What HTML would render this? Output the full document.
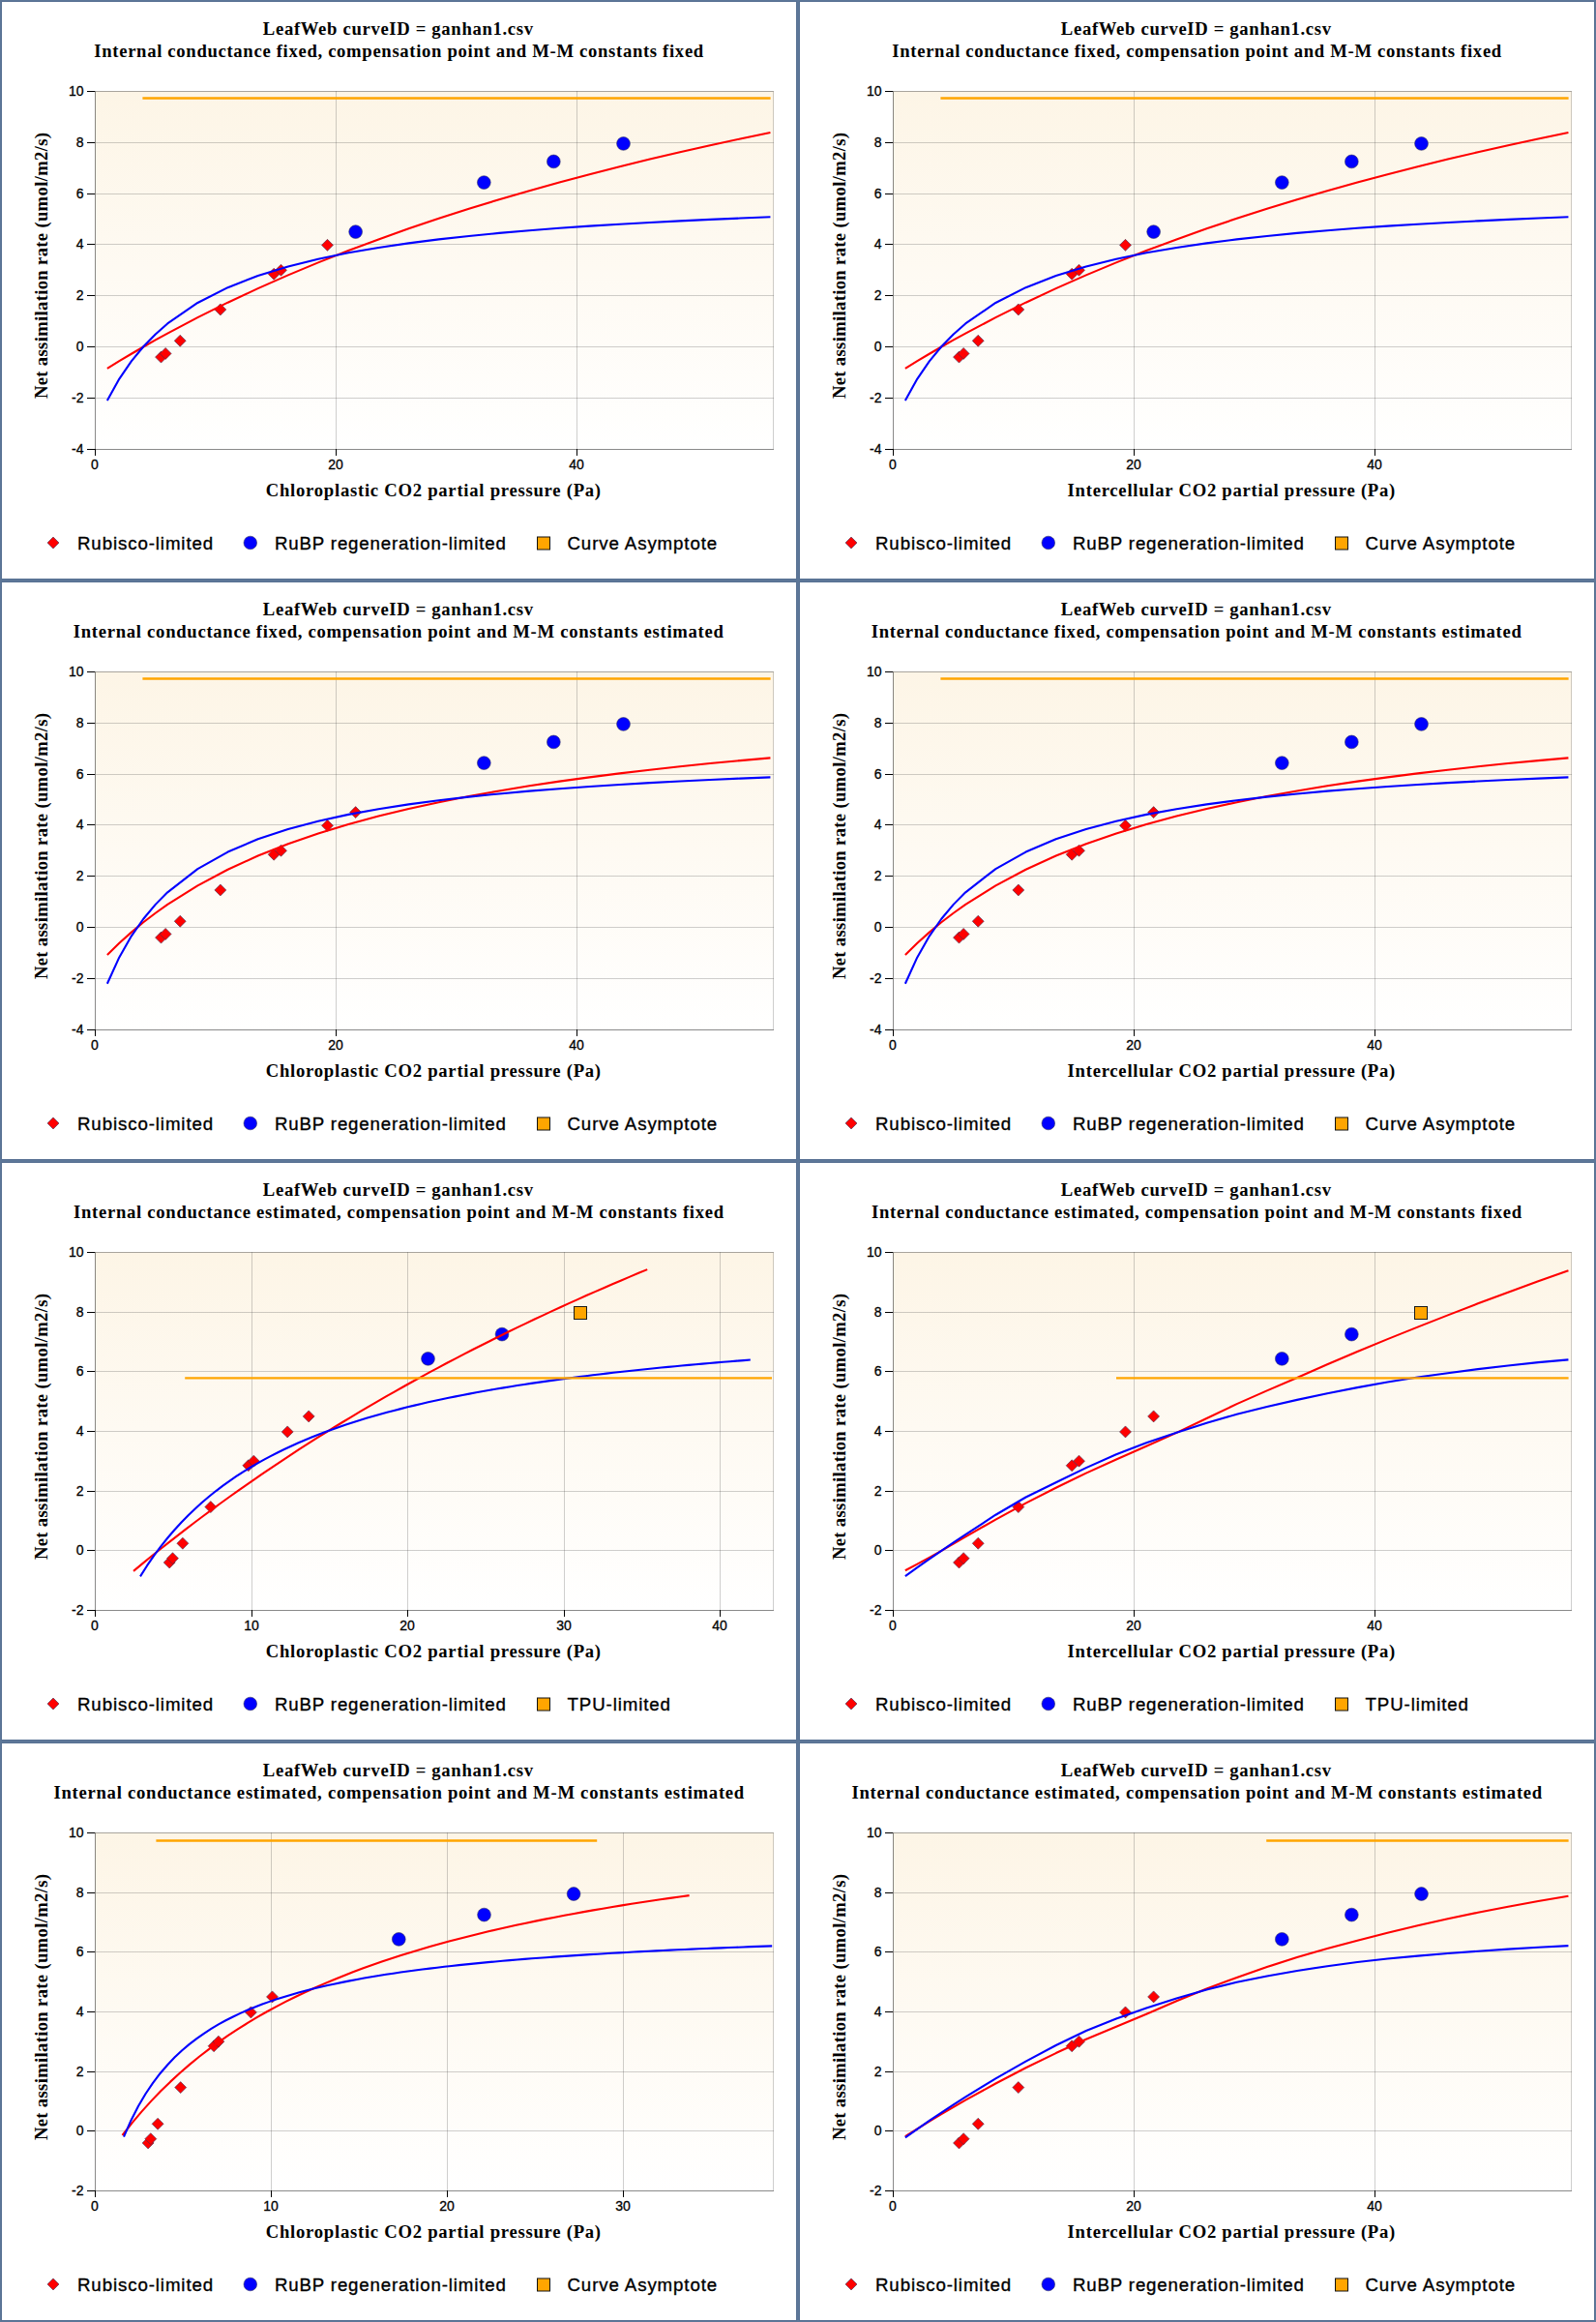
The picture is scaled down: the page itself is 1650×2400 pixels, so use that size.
<!DOCTYPE html>
<html><head><meta charset="utf-8"><title>LeafWeb A/Ci curves</title>
<style>html,body{margin:0;padding:0;background:#fff}body{width:1650px;height:2400px;overflow:hidden;font-family:"Liberation Sans",sans-serif}text{fill:#000}</style></head>
<body>
<svg width="1650" height="2400" viewBox="0 0 1650 2400" style="display:block">
<defs><linearGradient id="bg" x1="0" y1="0" x2="0" y2="1"><stop offset="0" stop-color="#fdf5e6"/><stop offset="1" stop-color="#ffffff"/></linearGradient></defs>
<g transform="translate(0,0)">
<rect x="0.5" y="0.5" width="824" height="599" fill="#fff" stroke="#5d7798"/>
<rect x="1.5" y="1.5" width="822" height="597" fill="none" stroke="#587193"/>
<text x="411.8" y="35.8" text-anchor="middle" font-family="Liberation Serif" font-weight="bold" font-size="18.67" letter-spacing="0.67">LeafWeb curveID = ganhan1.csv</text>
<text x="412.6" y="58.6" text-anchor="middle" font-family="Liberation Serif" font-weight="bold" font-size="18.67" letter-spacing="0.68">Internal conductance fixed, compensation point and M-M constants fixed</text>
<rect x="98" y="94" width="702" height="371" fill="url(#bg)"/>
<line x1="98" x2="800" y1="464.5" y2="464.5" stroke="#404040" stroke-opacity="0.25"/>
<line x1="98" x2="800" y1="411.5" y2="411.5" stroke="#404040" stroke-opacity="0.25"/>
<line x1="98" x2="800" y1="358.5" y2="358.5" stroke="#404040" stroke-opacity="0.25"/>
<line x1="98" x2="800" y1="305.5" y2="305.5" stroke="#404040" stroke-opacity="0.25"/>
<line x1="98" x2="800" y1="252.5" y2="252.5" stroke="#404040" stroke-opacity="0.25"/>
<line x1="98" x2="800" y1="200.5" y2="200.5" stroke="#404040" stroke-opacity="0.25"/>
<line x1="98" x2="800" y1="147.5" y2="147.5" stroke="#404040" stroke-opacity="0.25"/>
<line x1="98" x2="800" y1="94.5" y2="94.5" stroke="#404040" stroke-opacity="0.25"/>
<line x1="98.5" x2="98.5" y1="94" y2="465" stroke="#404040" stroke-opacity="0.25"/>
<line x1="347.5" x2="347.5" y1="94" y2="465" stroke="#404040" stroke-opacity="0.25"/>
<line x1="596.5" x2="596.5" y1="94" y2="465" stroke="#404040" stroke-opacity="0.25"/>
<rect x="98.5" y="94.5" width="701" height="370" fill="none" stroke="#404040" stroke-opacity="0.25"/>
<line x1="98.5" x2="98.5" y1="94" y2="465" stroke="#404040" stroke-opacity="0.3"/>
<line x1="98" x2="800" y1="464.5" y2="464.5" stroke="#404040" stroke-opacity="0.3"/>
<line x1="90" x2="98" y1="464.5" y2="464.5" stroke="#000"/>
<text x="86.5" y="468.7" text-anchor="end" font-family="Liberation Sans" font-size="14" stroke="#000" stroke-width="0.3">-4</text>
<line x1="90" x2="98" y1="411.5" y2="411.5" stroke="#000"/>
<text x="86.5" y="415.7" text-anchor="end" font-family="Liberation Sans" font-size="14" stroke="#000" stroke-width="0.3">-2</text>
<line x1="90" x2="98" y1="358.5" y2="358.5" stroke="#000"/>
<text x="86.5" y="362.7" text-anchor="end" font-family="Liberation Sans" font-size="14" stroke="#000" stroke-width="0.3">0</text>
<line x1="90" x2="98" y1="305.5" y2="305.5" stroke="#000"/>
<text x="86.5" y="309.7" text-anchor="end" font-family="Liberation Sans" font-size="14" stroke="#000" stroke-width="0.3">2</text>
<line x1="90" x2="98" y1="252.5" y2="252.5" stroke="#000"/>
<text x="86.5" y="256.7" text-anchor="end" font-family="Liberation Sans" font-size="14" stroke="#000" stroke-width="0.3">4</text>
<line x1="90" x2="98" y1="200.5" y2="200.5" stroke="#000"/>
<text x="86.5" y="204.7" text-anchor="end" font-family="Liberation Sans" font-size="14" stroke="#000" stroke-width="0.3">6</text>
<line x1="90" x2="98" y1="147.5" y2="147.5" stroke="#000"/>
<text x="86.5" y="151.7" text-anchor="end" font-family="Liberation Sans" font-size="14" stroke="#000" stroke-width="0.3">8</text>
<line x1="90" x2="98" y1="94.5" y2="94.5" stroke="#000"/>
<text x="86.5" y="98.7" text-anchor="end" font-family="Liberation Sans" font-size="14" stroke="#000" stroke-width="0.3">10</text>
<line x1="98.5" x2="98.5" y1="464" y2="471" stroke="#000"/>
<text x="98.0" y="485" text-anchor="middle" font-family="Liberation Sans" font-size="14" stroke="#000" stroke-width="0.3">0</text>
<line x1="347.5" x2="347.5" y1="464" y2="471" stroke="#000"/>
<text x="347.0" y="485" text-anchor="middle" font-family="Liberation Sans" font-size="14" stroke="#000" stroke-width="0.3">20</text>
<line x1="596.5" x2="596.5" y1="464" y2="471" stroke="#000"/>
<text x="596.0" y="485" text-anchor="middle" font-family="Liberation Sans" font-size="14" stroke="#000" stroke-width="0.3">40</text>
<text x="448.3" y="512.9" text-anchor="middle" font-family="Liberation Serif" font-weight="bold" font-size="18.67" letter-spacing="0.74">Chloroplastic CO2 partial pressure (Pa)</text>
<text transform="translate(49,274.4) rotate(-90)" text-anchor="middle" font-family="Liberation Serif" font-weight="bold" font-size="18.67" letter-spacing="0.32">Net assimilation rate (umol/m2/s)</text>
<path d="M160.53 369.12 L166.53 363.12 L172.53 369.12 L166.53 375.12Z" fill="#f00" stroke="#303058" stroke-opacity="0.7" stroke-width="0.8"/>
<path d="M165.14 365.42 L171.14 359.42 L177.14 365.42 L171.14 371.42Z" fill="#f00" stroke="#303058" stroke-opacity="0.7" stroke-width="0.8"/>
<path d="M180.22 352.21 L186.22 346.21 L192.22 352.21 L186.22 358.21Z" fill="#f00" stroke="#303058" stroke-opacity="0.7" stroke-width="0.8"/>
<path d="M221.83 319.96 L227.83 313.96 L233.83 319.96 L227.83 325.96Z" fill="#f00" stroke="#303058" stroke-opacity="0.7" stroke-width="0.8"/>
<path d="M277.16 283.23 L283.16 277.23 L289.16 283.23 L283.16 289.23Z" fill="#f00" stroke="#303058" stroke-opacity="0.7" stroke-width="0.8"/>
<path d="M284.51 279.26 L290.51 273.26 L296.51 279.26 L290.51 285.26Z" fill="#f00" stroke="#303058" stroke-opacity="0.7" stroke-width="0.8"/>
<path d="M332.48 253.36 L338.48 247.36 L344.48 253.36 L338.48 259.36Z" fill="#f00" stroke="#303058" stroke-opacity="0.7" stroke-width="0.8"/>
<circle cx="367.63" cy="239.62" r="6.9" fill="#00f" stroke="#303058" stroke-opacity="0.7" stroke-width="0.8"/>
<circle cx="500.33" cy="188.61" r="6.9" fill="#00f" stroke="#303058" stroke-opacity="0.7" stroke-width="0.8"/>
<circle cx="572.35" cy="166.94" r="6.9" fill="#00f" stroke="#303058" stroke-opacity="0.7" stroke-width="0.8"/>
<circle cx="644.5" cy="148.44" r="6.9" fill="#00f" stroke="#303058" stroke-opacity="0.7" stroke-width="0.8"/>
<path d="M110.87 380.83 L123.33 373.2 L135.8 365.76 L148.26 358.52 L160.73 351.46 L173.19 344.59 L204.35 328.14 L235.52 312.68 L266.68 298.11 L297.84 284.36 L329 271.37 L360.16 259.07 L391.33 247.41 L422.49 236.34 L453.65 225.81 L484.82 215.8 L515.98 206.26 L547.14 197.15 L578.3 188.46 L609.47 180.14 L640.63 172.19 L671.79 164.57 L702.95 157.26 L734.12 150.25 L765.28 143.52 L796.44 137.05" fill="none" stroke="#f00" stroke-width="2.1" stroke-linecap="butt" stroke-linejoin="round"/>
<path d="M110.87 413.92 L123.33 391.58 L135.8 373.36 L148.26 358.22 L160.73 345.42 L173.19 334.48 L204.35 312.97 L235.52 297.17 L266.68 285.06 L297.84 275.49 L329 267.74 L360.16 261.33 L391.33 255.94 L422.49 251.35 L453.65 247.39 L484.82 243.94 L515.98 240.91 L547.14 238.22 L578.3 235.82 L609.47 233.67 L640.63 231.73 L671.79 229.96 L702.95 228.36 L734.12 226.89 L765.28 225.54 L796.44 224.29" fill="none" stroke="#00f" stroke-width="2.1" stroke-linecap="butt" stroke-linejoin="round"/>
<line x1="147.4" x2="796.6" y1="101.45" y2="101.45" stroke="#ffa500" stroke-width="2.35"/>
<path d="M49 561 L55 555 L61 561 L55 567Z" fill="#f00" stroke="#303058" stroke-opacity="0.7" stroke-width="0.8"/>
<circle cx="258.8" cy="561" r="6.8" fill="#00f" stroke="#303058" stroke-opacity="0.7" stroke-width="0.8"/>
<rect x="555.5" y="555" width="13" height="13" fill="#ffa500" stroke="#111"/>
<text x="80" y="567.6" font-family="Liberation Sans" font-size="18.67" stroke="#000" stroke-width="0.35" letter-spacing="0.9">Rubisco-limited</text>
<text x="284" y="567.6" font-family="Liberation Sans" font-size="18.67" stroke="#000" stroke-width="0.35" letter-spacing="0.85">RuBP regeneration-limited</text>
<text x="586.5" y="567.6" font-family="Liberation Sans" font-size="18.67" stroke="#000" stroke-width="0.35" letter-spacing="0.9">Curve Asymptote</text>
</g>
<g transform="translate(825,0)">
<rect x="0.5" y="0.5" width="824" height="599" fill="#fff" stroke="#5d7798"/>
<rect x="1.5" y="1.5" width="822" height="597" fill="none" stroke="#587193"/>
<text x="411.8" y="35.8" text-anchor="middle" font-family="Liberation Serif" font-weight="bold" font-size="18.67" letter-spacing="0.67">LeafWeb curveID = ganhan1.csv</text>
<text x="412.6" y="58.6" text-anchor="middle" font-family="Liberation Serif" font-weight="bold" font-size="18.67" letter-spacing="0.68">Internal conductance fixed, compensation point and M-M constants fixed</text>
<rect x="98" y="94" width="702" height="371" fill="url(#bg)"/>
<line x1="98" x2="800" y1="464.5" y2="464.5" stroke="#404040" stroke-opacity="0.25"/>
<line x1="98" x2="800" y1="411.5" y2="411.5" stroke="#404040" stroke-opacity="0.25"/>
<line x1="98" x2="800" y1="358.5" y2="358.5" stroke="#404040" stroke-opacity="0.25"/>
<line x1="98" x2="800" y1="305.5" y2="305.5" stroke="#404040" stroke-opacity="0.25"/>
<line x1="98" x2="800" y1="252.5" y2="252.5" stroke="#404040" stroke-opacity="0.25"/>
<line x1="98" x2="800" y1="200.5" y2="200.5" stroke="#404040" stroke-opacity="0.25"/>
<line x1="98" x2="800" y1="147.5" y2="147.5" stroke="#404040" stroke-opacity="0.25"/>
<line x1="98" x2="800" y1="94.5" y2="94.5" stroke="#404040" stroke-opacity="0.25"/>
<line x1="98.5" x2="98.5" y1="94" y2="465" stroke="#404040" stroke-opacity="0.25"/>
<line x1="347.5" x2="347.5" y1="94" y2="465" stroke="#404040" stroke-opacity="0.25"/>
<line x1="596.5" x2="596.5" y1="94" y2="465" stroke="#404040" stroke-opacity="0.25"/>
<rect x="98.5" y="94.5" width="701" height="370" fill="none" stroke="#404040" stroke-opacity="0.25"/>
<line x1="98.5" x2="98.5" y1="94" y2="465" stroke="#404040" stroke-opacity="0.3"/>
<line x1="98" x2="800" y1="464.5" y2="464.5" stroke="#404040" stroke-opacity="0.3"/>
<line x1="90" x2="98" y1="464.5" y2="464.5" stroke="#000"/>
<text x="86.5" y="468.7" text-anchor="end" font-family="Liberation Sans" font-size="14" stroke="#000" stroke-width="0.3">-4</text>
<line x1="90" x2="98" y1="411.5" y2="411.5" stroke="#000"/>
<text x="86.5" y="415.7" text-anchor="end" font-family="Liberation Sans" font-size="14" stroke="#000" stroke-width="0.3">-2</text>
<line x1="90" x2="98" y1="358.5" y2="358.5" stroke="#000"/>
<text x="86.5" y="362.7" text-anchor="end" font-family="Liberation Sans" font-size="14" stroke="#000" stroke-width="0.3">0</text>
<line x1="90" x2="98" y1="305.5" y2="305.5" stroke="#000"/>
<text x="86.5" y="309.7" text-anchor="end" font-family="Liberation Sans" font-size="14" stroke="#000" stroke-width="0.3">2</text>
<line x1="90" x2="98" y1="252.5" y2="252.5" stroke="#000"/>
<text x="86.5" y="256.7" text-anchor="end" font-family="Liberation Sans" font-size="14" stroke="#000" stroke-width="0.3">4</text>
<line x1="90" x2="98" y1="200.5" y2="200.5" stroke="#000"/>
<text x="86.5" y="204.7" text-anchor="end" font-family="Liberation Sans" font-size="14" stroke="#000" stroke-width="0.3">6</text>
<line x1="90" x2="98" y1="147.5" y2="147.5" stroke="#000"/>
<text x="86.5" y="151.7" text-anchor="end" font-family="Liberation Sans" font-size="14" stroke="#000" stroke-width="0.3">8</text>
<line x1="90" x2="98" y1="94.5" y2="94.5" stroke="#000"/>
<text x="86.5" y="98.7" text-anchor="end" font-family="Liberation Sans" font-size="14" stroke="#000" stroke-width="0.3">10</text>
<line x1="98.5" x2="98.5" y1="464" y2="471" stroke="#000"/>
<text x="98.0" y="485" text-anchor="middle" font-family="Liberation Sans" font-size="14" stroke="#000" stroke-width="0.3">0</text>
<line x1="347.5" x2="347.5" y1="464" y2="471" stroke="#000"/>
<text x="347.0" y="485" text-anchor="middle" font-family="Liberation Sans" font-size="14" stroke="#000" stroke-width="0.3">20</text>
<line x1="596.5" x2="596.5" y1="464" y2="471" stroke="#000"/>
<text x="596.0" y="485" text-anchor="middle" font-family="Liberation Sans" font-size="14" stroke="#000" stroke-width="0.3">40</text>
<text x="448.3" y="512.9" text-anchor="middle" font-family="Liberation Serif" font-weight="bold" font-size="18.67" letter-spacing="0.74">Intercellular CO2 partial pressure (Pa)</text>
<text transform="translate(49,274.4) rotate(-90)" text-anchor="middle" font-family="Liberation Serif" font-weight="bold" font-size="18.67" letter-spacing="0.32">Net assimilation rate (umol/m2/s)</text>
<path d="M160.53 369.12 L166.53 363.12 L172.53 369.12 L166.53 375.12Z" fill="#f00" stroke="#303058" stroke-opacity="0.7" stroke-width="0.8"/>
<path d="M165.14 365.42 L171.14 359.42 L177.14 365.42 L171.14 371.42Z" fill="#f00" stroke="#303058" stroke-opacity="0.7" stroke-width="0.8"/>
<path d="M180.22 352.21 L186.22 346.21 L192.22 352.21 L186.22 358.21Z" fill="#f00" stroke="#303058" stroke-opacity="0.7" stroke-width="0.8"/>
<path d="M221.83 319.96 L227.83 313.96 L233.83 319.96 L227.83 325.96Z" fill="#f00" stroke="#303058" stroke-opacity="0.7" stroke-width="0.8"/>
<path d="M277.16 283.23 L283.16 277.23 L289.16 283.23 L283.16 289.23Z" fill="#f00" stroke="#303058" stroke-opacity="0.7" stroke-width="0.8"/>
<path d="M284.51 279.26 L290.51 273.26 L296.51 279.26 L290.51 285.26Z" fill="#f00" stroke="#303058" stroke-opacity="0.7" stroke-width="0.8"/>
<path d="M332.48 253.36 L338.48 247.36 L344.48 253.36 L338.48 259.36Z" fill="#f00" stroke="#303058" stroke-opacity="0.7" stroke-width="0.8"/>
<circle cx="367.63" cy="239.62" r="6.9" fill="#00f" stroke="#303058" stroke-opacity="0.7" stroke-width="0.8"/>
<circle cx="500.33" cy="188.61" r="6.9" fill="#00f" stroke="#303058" stroke-opacity="0.7" stroke-width="0.8"/>
<circle cx="572.35" cy="166.94" r="6.9" fill="#00f" stroke="#303058" stroke-opacity="0.7" stroke-width="0.8"/>
<circle cx="644.5" cy="148.44" r="6.9" fill="#00f" stroke="#303058" stroke-opacity="0.7" stroke-width="0.8"/>
<path d="M110.87 380.83 L123.33 373.2 L135.8 365.76 L148.26 358.52 L160.73 351.46 L173.19 344.59 L204.35 328.14 L235.52 312.68 L266.68 298.11 L297.84 284.36 L329 271.37 L360.16 259.07 L391.33 247.41 L422.49 236.34 L453.65 225.81 L484.82 215.8 L515.98 206.26 L547.14 197.15 L578.3 188.46 L609.47 180.14 L640.63 172.19 L671.79 164.57 L702.95 157.26 L734.12 150.25 L765.28 143.52 L796.44 137.05" fill="none" stroke="#f00" stroke-width="2.1" stroke-linecap="butt" stroke-linejoin="round"/>
<path d="M110.87 413.92 L123.33 391.58 L135.8 373.36 L148.26 358.22 L160.73 345.42 L173.19 334.48 L204.35 312.97 L235.52 297.17 L266.68 285.06 L297.84 275.49 L329 267.74 L360.16 261.33 L391.33 255.94 L422.49 251.35 L453.65 247.39 L484.82 243.94 L515.98 240.91 L547.14 238.22 L578.3 235.82 L609.47 233.67 L640.63 231.73 L671.79 229.96 L702.95 228.36 L734.12 226.89 L765.28 225.54 L796.44 224.29" fill="none" stroke="#00f" stroke-width="2.1" stroke-linecap="butt" stroke-linejoin="round"/>
<line x1="147.4" x2="796.6" y1="101.45" y2="101.45" stroke="#ffa500" stroke-width="2.35"/>
<path d="M49 561 L55 555 L61 561 L55 567Z" fill="#f00" stroke="#303058" stroke-opacity="0.7" stroke-width="0.8"/>
<circle cx="258.8" cy="561" r="6.8" fill="#00f" stroke="#303058" stroke-opacity="0.7" stroke-width="0.8"/>
<rect x="555.5" y="555" width="13" height="13" fill="#ffa500" stroke="#111"/>
<text x="80" y="567.6" font-family="Liberation Sans" font-size="18.67" stroke="#000" stroke-width="0.35" letter-spacing="0.9">Rubisco-limited</text>
<text x="284" y="567.6" font-family="Liberation Sans" font-size="18.67" stroke="#000" stroke-width="0.35" letter-spacing="0.85">RuBP regeneration-limited</text>
<text x="586.5" y="567.6" font-family="Liberation Sans" font-size="18.67" stroke="#000" stroke-width="0.35" letter-spacing="0.9">Curve Asymptote</text>
</g>
<g transform="translate(0,600)">
<rect x="0.5" y="0.5" width="824" height="599" fill="#fff" stroke="#5d7798"/>
<rect x="1.5" y="1.5" width="822" height="597" fill="none" stroke="#587193"/>
<text x="411.8" y="35.8" text-anchor="middle" font-family="Liberation Serif" font-weight="bold" font-size="18.67" letter-spacing="0.67">LeafWeb curveID = ganhan1.csv</text>
<text x="412.2" y="58.6" text-anchor="middle" font-family="Liberation Serif" font-weight="bold" font-size="18.67" letter-spacing="0.71">Internal conductance fixed, compensation point and M-M constants estimated</text>
<rect x="98" y="94" width="702" height="371" fill="url(#bg)"/>
<line x1="98" x2="800" y1="464.5" y2="464.5" stroke="#404040" stroke-opacity="0.25"/>
<line x1="98" x2="800" y1="411.5" y2="411.5" stroke="#404040" stroke-opacity="0.25"/>
<line x1="98" x2="800" y1="358.5" y2="358.5" stroke="#404040" stroke-opacity="0.25"/>
<line x1="98" x2="800" y1="305.5" y2="305.5" stroke="#404040" stroke-opacity="0.25"/>
<line x1="98" x2="800" y1="252.5" y2="252.5" stroke="#404040" stroke-opacity="0.25"/>
<line x1="98" x2="800" y1="200.5" y2="200.5" stroke="#404040" stroke-opacity="0.25"/>
<line x1="98" x2="800" y1="147.5" y2="147.5" stroke="#404040" stroke-opacity="0.25"/>
<line x1="98" x2="800" y1="94.5" y2="94.5" stroke="#404040" stroke-opacity="0.25"/>
<line x1="98.5" x2="98.5" y1="94" y2="465" stroke="#404040" stroke-opacity="0.25"/>
<line x1="347.5" x2="347.5" y1="94" y2="465" stroke="#404040" stroke-opacity="0.25"/>
<line x1="596.5" x2="596.5" y1="94" y2="465" stroke="#404040" stroke-opacity="0.25"/>
<rect x="98.5" y="94.5" width="701" height="370" fill="none" stroke="#404040" stroke-opacity="0.25"/>
<line x1="98.5" x2="98.5" y1="94" y2="465" stroke="#404040" stroke-opacity="0.3"/>
<line x1="98" x2="800" y1="464.5" y2="464.5" stroke="#404040" stroke-opacity="0.3"/>
<line x1="90" x2="98" y1="464.5" y2="464.5" stroke="#000"/>
<text x="86.5" y="468.7" text-anchor="end" font-family="Liberation Sans" font-size="14" stroke="#000" stroke-width="0.3">-4</text>
<line x1="90" x2="98" y1="411.5" y2="411.5" stroke="#000"/>
<text x="86.5" y="415.7" text-anchor="end" font-family="Liberation Sans" font-size="14" stroke="#000" stroke-width="0.3">-2</text>
<line x1="90" x2="98" y1="358.5" y2="358.5" stroke="#000"/>
<text x="86.5" y="362.7" text-anchor="end" font-family="Liberation Sans" font-size="14" stroke="#000" stroke-width="0.3">0</text>
<line x1="90" x2="98" y1="305.5" y2="305.5" stroke="#000"/>
<text x="86.5" y="309.7" text-anchor="end" font-family="Liberation Sans" font-size="14" stroke="#000" stroke-width="0.3">2</text>
<line x1="90" x2="98" y1="252.5" y2="252.5" stroke="#000"/>
<text x="86.5" y="256.7" text-anchor="end" font-family="Liberation Sans" font-size="14" stroke="#000" stroke-width="0.3">4</text>
<line x1="90" x2="98" y1="200.5" y2="200.5" stroke="#000"/>
<text x="86.5" y="204.7" text-anchor="end" font-family="Liberation Sans" font-size="14" stroke="#000" stroke-width="0.3">6</text>
<line x1="90" x2="98" y1="147.5" y2="147.5" stroke="#000"/>
<text x="86.5" y="151.7" text-anchor="end" font-family="Liberation Sans" font-size="14" stroke="#000" stroke-width="0.3">8</text>
<line x1="90" x2="98" y1="94.5" y2="94.5" stroke="#000"/>
<text x="86.5" y="98.7" text-anchor="end" font-family="Liberation Sans" font-size="14" stroke="#000" stroke-width="0.3">10</text>
<line x1="98.5" x2="98.5" y1="464" y2="471" stroke="#000"/>
<text x="98.0" y="485" text-anchor="middle" font-family="Liberation Sans" font-size="14" stroke="#000" stroke-width="0.3">0</text>
<line x1="347.5" x2="347.5" y1="464" y2="471" stroke="#000"/>
<text x="347.0" y="485" text-anchor="middle" font-family="Liberation Sans" font-size="14" stroke="#000" stroke-width="0.3">20</text>
<line x1="596.5" x2="596.5" y1="464" y2="471" stroke="#000"/>
<text x="596.0" y="485" text-anchor="middle" font-family="Liberation Sans" font-size="14" stroke="#000" stroke-width="0.3">40</text>
<text x="448.3" y="512.9" text-anchor="middle" font-family="Liberation Serif" font-weight="bold" font-size="18.67" letter-spacing="0.74">Chloroplastic CO2 partial pressure (Pa)</text>
<text transform="translate(49,274.4) rotate(-90)" text-anchor="middle" font-family="Liberation Serif" font-weight="bold" font-size="18.67" letter-spacing="0.32">Net assimilation rate (umol/m2/s)</text>
<path d="M160.53 369.12 L166.53 363.12 L172.53 369.12 L166.53 375.12Z" fill="#f00" stroke="#303058" stroke-opacity="0.7" stroke-width="0.8"/>
<path d="M165.14 365.42 L171.14 359.42 L177.14 365.42 L171.14 371.42Z" fill="#f00" stroke="#303058" stroke-opacity="0.7" stroke-width="0.8"/>
<path d="M180.22 352.21 L186.22 346.21 L192.22 352.21 L186.22 358.21Z" fill="#f00" stroke="#303058" stroke-opacity="0.7" stroke-width="0.8"/>
<path d="M221.83 319.96 L227.83 313.96 L233.83 319.96 L227.83 325.96Z" fill="#f00" stroke="#303058" stroke-opacity="0.7" stroke-width="0.8"/>
<path d="M277.16 283.23 L283.16 277.23 L289.16 283.23 L283.16 289.23Z" fill="#f00" stroke="#303058" stroke-opacity="0.7" stroke-width="0.8"/>
<path d="M284.51 279.26 L290.51 273.26 L296.51 279.26 L290.51 285.26Z" fill="#f00" stroke="#303058" stroke-opacity="0.7" stroke-width="0.8"/>
<path d="M332.48 253.36 L338.48 247.36 L344.48 253.36 L338.48 259.36Z" fill="#f00" stroke="#303058" stroke-opacity="0.7" stroke-width="0.8"/>
<path d="M361.63 239.62 L367.63 233.62 L373.63 239.62 L367.63 245.62Z" fill="#f00" stroke="#303058" stroke-opacity="0.7" stroke-width="0.8"/>
<circle cx="500.33" cy="188.61" r="6.9" fill="#00f" stroke="#303058" stroke-opacity="0.7" stroke-width="0.8"/>
<circle cx="572.35" cy="166.94" r="6.9" fill="#00f" stroke="#303058" stroke-opacity="0.7" stroke-width="0.8"/>
<circle cx="644.5" cy="148.44" r="6.9" fill="#00f" stroke="#303058" stroke-opacity="0.7" stroke-width="0.8"/>
<path d="M110.87 387.04 L123.33 374.84 L135.8 363.62 L148.26 353.29 L160.73 343.74 L173.19 334.88 L204.35 315.31 L235.52 298.75 L266.68 284.56 L297.84 272.25 L329 261.49 L360.16 251.99 L391.33 243.54 L422.49 235.99 L453.65 229.19 L484.82 223.03 L515.98 217.44 L547.14 212.33 L578.3 207.65 L609.47 203.34 L640.63 199.36 L671.79 195.68 L702.95 192.26 L734.12 189.08 L765.28 186.11 L796.44 183.33" fill="none" stroke="#f00" stroke-width="2.1" stroke-linecap="butt" stroke-linejoin="round"/>
<path d="M110.87 416.79 L123.33 389.43 L135.8 367.58 L148.26 349.73 L160.73 334.87 L173.19 322.32 L204.35 298.05 L235.52 280.55 L266.68 267.33 L297.84 257 L329 248.7 L360.16 241.88 L391.33 236.19 L422.49 231.36 L453.65 227.21 L484.82 223.61 L515.98 220.46 L547.14 217.67 L578.3 215.19 L609.47 212.96 L640.63 210.96 L671.79 209.15 L702.95 207.5 L734.12 205.99 L765.28 204.61 L796.44 203.34" fill="none" stroke="#00f" stroke-width="2.1" stroke-linecap="butt" stroke-linejoin="round"/>
<line x1="147.4" x2="796.6" y1="101.45" y2="101.45" stroke="#ffa500" stroke-width="2.35"/>
<path d="M49 561 L55 555 L61 561 L55 567Z" fill="#f00" stroke="#303058" stroke-opacity="0.7" stroke-width="0.8"/>
<circle cx="258.8" cy="561" r="6.8" fill="#00f" stroke="#303058" stroke-opacity="0.7" stroke-width="0.8"/>
<rect x="555.5" y="555" width="13" height="13" fill="#ffa500" stroke="#111"/>
<text x="80" y="567.6" font-family="Liberation Sans" font-size="18.67" stroke="#000" stroke-width="0.35" letter-spacing="0.9">Rubisco-limited</text>
<text x="284" y="567.6" font-family="Liberation Sans" font-size="18.67" stroke="#000" stroke-width="0.35" letter-spacing="0.85">RuBP regeneration-limited</text>
<text x="586.5" y="567.6" font-family="Liberation Sans" font-size="18.67" stroke="#000" stroke-width="0.35" letter-spacing="0.9">Curve Asymptote</text>
</g>
<g transform="translate(825,600)">
<rect x="0.5" y="0.5" width="824" height="599" fill="#fff" stroke="#5d7798"/>
<rect x="1.5" y="1.5" width="822" height="597" fill="none" stroke="#587193"/>
<text x="411.8" y="35.8" text-anchor="middle" font-family="Liberation Serif" font-weight="bold" font-size="18.67" letter-spacing="0.67">LeafWeb curveID = ganhan1.csv</text>
<text x="412.2" y="58.6" text-anchor="middle" font-family="Liberation Serif" font-weight="bold" font-size="18.67" letter-spacing="0.71">Internal conductance fixed, compensation point and M-M constants estimated</text>
<rect x="98" y="94" width="702" height="371" fill="url(#bg)"/>
<line x1="98" x2="800" y1="464.5" y2="464.5" stroke="#404040" stroke-opacity="0.25"/>
<line x1="98" x2="800" y1="411.5" y2="411.5" stroke="#404040" stroke-opacity="0.25"/>
<line x1="98" x2="800" y1="358.5" y2="358.5" stroke="#404040" stroke-opacity="0.25"/>
<line x1="98" x2="800" y1="305.5" y2="305.5" stroke="#404040" stroke-opacity="0.25"/>
<line x1="98" x2="800" y1="252.5" y2="252.5" stroke="#404040" stroke-opacity="0.25"/>
<line x1="98" x2="800" y1="200.5" y2="200.5" stroke="#404040" stroke-opacity="0.25"/>
<line x1="98" x2="800" y1="147.5" y2="147.5" stroke="#404040" stroke-opacity="0.25"/>
<line x1="98" x2="800" y1="94.5" y2="94.5" stroke="#404040" stroke-opacity="0.25"/>
<line x1="98.5" x2="98.5" y1="94" y2="465" stroke="#404040" stroke-opacity="0.25"/>
<line x1="347.5" x2="347.5" y1="94" y2="465" stroke="#404040" stroke-opacity="0.25"/>
<line x1="596.5" x2="596.5" y1="94" y2="465" stroke="#404040" stroke-opacity="0.25"/>
<rect x="98.5" y="94.5" width="701" height="370" fill="none" stroke="#404040" stroke-opacity="0.25"/>
<line x1="98.5" x2="98.5" y1="94" y2="465" stroke="#404040" stroke-opacity="0.3"/>
<line x1="98" x2="800" y1="464.5" y2="464.5" stroke="#404040" stroke-opacity="0.3"/>
<line x1="90" x2="98" y1="464.5" y2="464.5" stroke="#000"/>
<text x="86.5" y="468.7" text-anchor="end" font-family="Liberation Sans" font-size="14" stroke="#000" stroke-width="0.3">-4</text>
<line x1="90" x2="98" y1="411.5" y2="411.5" stroke="#000"/>
<text x="86.5" y="415.7" text-anchor="end" font-family="Liberation Sans" font-size="14" stroke="#000" stroke-width="0.3">-2</text>
<line x1="90" x2="98" y1="358.5" y2="358.5" stroke="#000"/>
<text x="86.5" y="362.7" text-anchor="end" font-family="Liberation Sans" font-size="14" stroke="#000" stroke-width="0.3">0</text>
<line x1="90" x2="98" y1="305.5" y2="305.5" stroke="#000"/>
<text x="86.5" y="309.7" text-anchor="end" font-family="Liberation Sans" font-size="14" stroke="#000" stroke-width="0.3">2</text>
<line x1="90" x2="98" y1="252.5" y2="252.5" stroke="#000"/>
<text x="86.5" y="256.7" text-anchor="end" font-family="Liberation Sans" font-size="14" stroke="#000" stroke-width="0.3">4</text>
<line x1="90" x2="98" y1="200.5" y2="200.5" stroke="#000"/>
<text x="86.5" y="204.7" text-anchor="end" font-family="Liberation Sans" font-size="14" stroke="#000" stroke-width="0.3">6</text>
<line x1="90" x2="98" y1="147.5" y2="147.5" stroke="#000"/>
<text x="86.5" y="151.7" text-anchor="end" font-family="Liberation Sans" font-size="14" stroke="#000" stroke-width="0.3">8</text>
<line x1="90" x2="98" y1="94.5" y2="94.5" stroke="#000"/>
<text x="86.5" y="98.7" text-anchor="end" font-family="Liberation Sans" font-size="14" stroke="#000" stroke-width="0.3">10</text>
<line x1="98.5" x2="98.5" y1="464" y2="471" stroke="#000"/>
<text x="98.0" y="485" text-anchor="middle" font-family="Liberation Sans" font-size="14" stroke="#000" stroke-width="0.3">0</text>
<line x1="347.5" x2="347.5" y1="464" y2="471" stroke="#000"/>
<text x="347.0" y="485" text-anchor="middle" font-family="Liberation Sans" font-size="14" stroke="#000" stroke-width="0.3">20</text>
<line x1="596.5" x2="596.5" y1="464" y2="471" stroke="#000"/>
<text x="596.0" y="485" text-anchor="middle" font-family="Liberation Sans" font-size="14" stroke="#000" stroke-width="0.3">40</text>
<text x="448.3" y="512.9" text-anchor="middle" font-family="Liberation Serif" font-weight="bold" font-size="18.67" letter-spacing="0.74">Intercellular CO2 partial pressure (Pa)</text>
<text transform="translate(49,274.4) rotate(-90)" text-anchor="middle" font-family="Liberation Serif" font-weight="bold" font-size="18.67" letter-spacing="0.32">Net assimilation rate (umol/m2/s)</text>
<path d="M160.53 369.12 L166.53 363.12 L172.53 369.12 L166.53 375.12Z" fill="#f00" stroke="#303058" stroke-opacity="0.7" stroke-width="0.8"/>
<path d="M165.14 365.42 L171.14 359.42 L177.14 365.42 L171.14 371.42Z" fill="#f00" stroke="#303058" stroke-opacity="0.7" stroke-width="0.8"/>
<path d="M180.22 352.21 L186.22 346.21 L192.22 352.21 L186.22 358.21Z" fill="#f00" stroke="#303058" stroke-opacity="0.7" stroke-width="0.8"/>
<path d="M221.83 319.96 L227.83 313.96 L233.83 319.96 L227.83 325.96Z" fill="#f00" stroke="#303058" stroke-opacity="0.7" stroke-width="0.8"/>
<path d="M277.16 283.23 L283.16 277.23 L289.16 283.23 L283.16 289.23Z" fill="#f00" stroke="#303058" stroke-opacity="0.7" stroke-width="0.8"/>
<path d="M284.51 279.26 L290.51 273.26 L296.51 279.26 L290.51 285.26Z" fill="#f00" stroke="#303058" stroke-opacity="0.7" stroke-width="0.8"/>
<path d="M332.48 253.36 L338.48 247.36 L344.48 253.36 L338.48 259.36Z" fill="#f00" stroke="#303058" stroke-opacity="0.7" stroke-width="0.8"/>
<path d="M361.63 239.62 L367.63 233.62 L373.63 239.62 L367.63 245.62Z" fill="#f00" stroke="#303058" stroke-opacity="0.7" stroke-width="0.8"/>
<circle cx="500.33" cy="188.61" r="6.9" fill="#00f" stroke="#303058" stroke-opacity="0.7" stroke-width="0.8"/>
<circle cx="572.35" cy="166.94" r="6.9" fill="#00f" stroke="#303058" stroke-opacity="0.7" stroke-width="0.8"/>
<circle cx="644.5" cy="148.44" r="6.9" fill="#00f" stroke="#303058" stroke-opacity="0.7" stroke-width="0.8"/>
<path d="M110.87 387.04 L123.33 374.84 L135.8 363.62 L148.26 353.29 L160.73 343.74 L173.19 334.88 L204.35 315.31 L235.52 298.75 L266.68 284.56 L297.84 272.25 L329 261.49 L360.16 251.99 L391.33 243.54 L422.49 235.99 L453.65 229.19 L484.82 223.03 L515.98 217.44 L547.14 212.33 L578.3 207.65 L609.47 203.34 L640.63 199.36 L671.79 195.68 L702.95 192.26 L734.12 189.08 L765.28 186.11 L796.44 183.33" fill="none" stroke="#f00" stroke-width="2.1" stroke-linecap="butt" stroke-linejoin="round"/>
<path d="M110.87 416.79 L123.33 389.43 L135.8 367.58 L148.26 349.73 L160.73 334.87 L173.19 322.32 L204.35 298.05 L235.52 280.55 L266.68 267.33 L297.84 257 L329 248.7 L360.16 241.88 L391.33 236.19 L422.49 231.36 L453.65 227.21 L484.82 223.61 L515.98 220.46 L547.14 217.67 L578.3 215.19 L609.47 212.96 L640.63 210.96 L671.79 209.15 L702.95 207.5 L734.12 205.99 L765.28 204.61 L796.44 203.34" fill="none" stroke="#00f" stroke-width="2.1" stroke-linecap="butt" stroke-linejoin="round"/>
<line x1="147.4" x2="796.6" y1="101.45" y2="101.45" stroke="#ffa500" stroke-width="2.35"/>
<path d="M49 561 L55 555 L61 561 L55 567Z" fill="#f00" stroke="#303058" stroke-opacity="0.7" stroke-width="0.8"/>
<circle cx="258.8" cy="561" r="6.8" fill="#00f" stroke="#303058" stroke-opacity="0.7" stroke-width="0.8"/>
<rect x="555.5" y="555" width="13" height="13" fill="#ffa500" stroke="#111"/>
<text x="80" y="567.6" font-family="Liberation Sans" font-size="18.67" stroke="#000" stroke-width="0.35" letter-spacing="0.9">Rubisco-limited</text>
<text x="284" y="567.6" font-family="Liberation Sans" font-size="18.67" stroke="#000" stroke-width="0.35" letter-spacing="0.85">RuBP regeneration-limited</text>
<text x="586.5" y="567.6" font-family="Liberation Sans" font-size="18.67" stroke="#000" stroke-width="0.35" letter-spacing="0.9">Curve Asymptote</text>
</g>
<g transform="translate(0,1200)">
<rect x="0.5" y="0.5" width="824" height="599" fill="#fff" stroke="#5d7798"/>
<rect x="1.5" y="1.5" width="822" height="597" fill="none" stroke="#587193"/>
<text x="411.8" y="35.8" text-anchor="middle" font-family="Liberation Serif" font-weight="bold" font-size="18.67" letter-spacing="0.67">LeafWeb curveID = ganhan1.csv</text>
<text x="412.4" y="58.6" text-anchor="middle" font-family="Liberation Serif" font-weight="bold" font-size="18.67" letter-spacing="0.71">Internal conductance estimated, compensation point and M-M constants fixed</text>
<rect x="98" y="94" width="702" height="371" fill="url(#bg)"/>
<line x1="98" x2="800" y1="464.5" y2="464.5" stroke="#404040" stroke-opacity="0.25"/>
<line x1="98" x2="800" y1="402.5" y2="402.5" stroke="#404040" stroke-opacity="0.25"/>
<line x1="98" x2="800" y1="341.5" y2="341.5" stroke="#404040" stroke-opacity="0.25"/>
<line x1="98" x2="800" y1="279.5" y2="279.5" stroke="#404040" stroke-opacity="0.25"/>
<line x1="98" x2="800" y1="217.5" y2="217.5" stroke="#404040" stroke-opacity="0.25"/>
<line x1="98" x2="800" y1="156.5" y2="156.5" stroke="#404040" stroke-opacity="0.25"/>
<line x1="98" x2="800" y1="94.5" y2="94.5" stroke="#404040" stroke-opacity="0.25"/>
<line x1="98.5" x2="98.5" y1="94" y2="465" stroke="#404040" stroke-opacity="0.25"/>
<line x1="260.5" x2="260.5" y1="94" y2="465" stroke="#404040" stroke-opacity="0.25"/>
<line x1="421.5" x2="421.5" y1="94" y2="465" stroke="#404040" stroke-opacity="0.25"/>
<line x1="583.5" x2="583.5" y1="94" y2="465" stroke="#404040" stroke-opacity="0.25"/>
<line x1="744.5" x2="744.5" y1="94" y2="465" stroke="#404040" stroke-opacity="0.25"/>
<rect x="98.5" y="94.5" width="701" height="370" fill="none" stroke="#404040" stroke-opacity="0.25"/>
<line x1="98.5" x2="98.5" y1="94" y2="465" stroke="#404040" stroke-opacity="0.3"/>
<line x1="98" x2="800" y1="464.5" y2="464.5" stroke="#404040" stroke-opacity="0.3"/>
<line x1="90" x2="98" y1="464.5" y2="464.5" stroke="#000"/>
<text x="86.5" y="468.7" text-anchor="end" font-family="Liberation Sans" font-size="14" stroke="#000" stroke-width="0.3">-2</text>
<line x1="90" x2="98" y1="402.5" y2="402.5" stroke="#000"/>
<text x="86.5" y="406.7" text-anchor="end" font-family="Liberation Sans" font-size="14" stroke="#000" stroke-width="0.3">0</text>
<line x1="90" x2="98" y1="341.5" y2="341.5" stroke="#000"/>
<text x="86.5" y="345.7" text-anchor="end" font-family="Liberation Sans" font-size="14" stroke="#000" stroke-width="0.3">2</text>
<line x1="90" x2="98" y1="279.5" y2="279.5" stroke="#000"/>
<text x="86.5" y="283.7" text-anchor="end" font-family="Liberation Sans" font-size="14" stroke="#000" stroke-width="0.3">4</text>
<line x1="90" x2="98" y1="217.5" y2="217.5" stroke="#000"/>
<text x="86.5" y="221.7" text-anchor="end" font-family="Liberation Sans" font-size="14" stroke="#000" stroke-width="0.3">6</text>
<line x1="90" x2="98" y1="156.5" y2="156.5" stroke="#000"/>
<text x="86.5" y="160.7" text-anchor="end" font-family="Liberation Sans" font-size="14" stroke="#000" stroke-width="0.3">8</text>
<line x1="90" x2="98" y1="94.5" y2="94.5" stroke="#000"/>
<text x="86.5" y="98.7" text-anchor="end" font-family="Liberation Sans" font-size="14" stroke="#000" stroke-width="0.3">10</text>
<line x1="98.5" x2="98.5" y1="464" y2="471" stroke="#000"/>
<text x="98.0" y="485" text-anchor="middle" font-family="Liberation Sans" font-size="14" stroke="#000" stroke-width="0.3">0</text>
<line x1="260.5" x2="260.5" y1="464" y2="471" stroke="#000"/>
<text x="260.0" y="485" text-anchor="middle" font-family="Liberation Sans" font-size="14" stroke="#000" stroke-width="0.3">10</text>
<line x1="421.5" x2="421.5" y1="464" y2="471" stroke="#000"/>
<text x="421.0" y="485" text-anchor="middle" font-family="Liberation Sans" font-size="14" stroke="#000" stroke-width="0.3">20</text>
<line x1="583.5" x2="583.5" y1="464" y2="471" stroke="#000"/>
<text x="583.0" y="485" text-anchor="middle" font-family="Liberation Sans" font-size="14" stroke="#000" stroke-width="0.3">30</text>
<line x1="744.5" x2="744.5" y1="464" y2="471" stroke="#000"/>
<text x="744.0" y="485" text-anchor="middle" font-family="Liberation Sans" font-size="14" stroke="#000" stroke-width="0.3">40</text>
<text x="448.3" y="512.9" text-anchor="middle" font-family="Liberation Serif" font-weight="bold" font-size="18.67" letter-spacing="0.74">Chloroplastic CO2 partial pressure (Pa)</text>
<text transform="translate(49,274.4) rotate(-90)" text-anchor="middle" font-family="Liberation Serif" font-weight="bold" font-size="18.67" letter-spacing="0.32">Net assimilation rate (umol/m2/s)</text>
<path d="M169.2 414.97 L175.2 408.97 L181.2 414.97 L175.2 420.97Z" fill="#f00" stroke="#303058" stroke-opacity="0.7" stroke-width="0.8"/>
<path d="M172.5 410.66 L178.5 404.66 L184.5 410.66 L178.5 416.66Z" fill="#f00" stroke="#303058" stroke-opacity="0.7" stroke-width="0.8"/>
<path d="M182.9 395.24 L188.9 389.24 L194.9 395.24 L188.9 401.24Z" fill="#f00" stroke="#303058" stroke-opacity="0.7" stroke-width="0.8"/>
<path d="M211.8 357.62 L217.8 351.62 L223.8 357.62 L217.8 363.62Z" fill="#f00" stroke="#303058" stroke-opacity="0.7" stroke-width="0.8"/>
<path d="M250.8 314.77 L256.8 308.77 L262.8 314.77 L256.8 320.77Z" fill="#f00" stroke="#303058" stroke-opacity="0.7" stroke-width="0.8"/>
<path d="M256.3 310.14 L262.3 304.14 L268.3 310.14 L262.3 316.14Z" fill="#f00" stroke="#303058" stroke-opacity="0.7" stroke-width="0.8"/>
<path d="M291.2 279.92 L297.2 273.92 L303.2 279.92 L297.2 285.92Z" fill="#f00" stroke="#303058" stroke-opacity="0.7" stroke-width="0.8"/>
<path d="M313.2 263.89 L319.2 257.89 L325.2 263.89 L319.2 269.89Z" fill="#f00" stroke="#303058" stroke-opacity="0.7" stroke-width="0.8"/>
<circle cx="442.5" cy="204.38" r="6.9" fill="#00f" stroke="#303058" stroke-opacity="0.7" stroke-width="0.8"/>
<circle cx="519" cy="179.1" r="6.9" fill="#00f" stroke="#303058" stroke-opacity="0.7" stroke-width="0.8"/>
<rect x="593.5" y="150.5" width="13" height="13" fill="#ffa500" stroke="#1a1a1a" stroke-width="1"/>
<path d="M138 423.83 L147 416.37 L156.01 409.02 L165.01 401.78 L174.01 394.63 L183.02 387.59 L192.02 380.64 L201.02 373.78 L210.03 367.02 L219.03 360.34 L228.03 353.76 L237.04 347.26 L246.04 340.85 L255.04 334.52 L264.05 328.28 L273.05 322.11 L282.05 316.02 L291.06 310.02 L300.06 304.08 L309.06 298.22 L318.07 292.44 L327.07 286.72 L336.07 281.08 L345.08 275.51 L354.08 270 L363.08 264.56 L372.09 259.19 L381.09 253.88 L390.09 248.63 L399.1 243.44 L408.1 238.32 L417.11 233.26 L426.11 228.25 L435.11 223.3 L444.12 218.41 L453.12 213.58 L462.12 208.8 L471.13 204.07 L480.13 199.4 L489.13 194.78 L498.14 190.21 L507.14 185.69 L516.14 181.22 L525.15 176.8 L534.15 172.43 L543.15 168.1 L552.16 163.82 L561.16 159.59 L570.16 155.4 L579.17 151.25 L588.17 147.15 L597.17 143.1 L606.18 139.08 L615.18 135.11 L624.18 131.17 L633.19 127.28 L642.19 123.43 L651.19 119.61 L660.2 115.84 L669.2 112.1" fill="none" stroke="#f00" stroke-width="2.1" stroke-linecap="butt" stroke-linejoin="round"/>
<path d="M145 429.33 L152.09 418.22 L159.18 407.93 L166.26 398.39 L173.35 389.52 L180.44 381.24 L187.53 373.5 L194.61 366.25 L201.7 359.44 L208.79 353.03 L215.88 346.99 L222.96 341.3 L230.05 335.91 L237.14 330.8 L244.23 325.97 L251.31 321.37 L258.4 317 L265.49 312.84 L272.58 308.87 L279.67 305.09 L286.75 301.47 L293.84 298.02 L300.93 294.71 L308.02 291.54 L315.1 288.5 L322.19 285.58 L329.28 282.78 L336.37 280.08 L343.45 277.49 L350.54 274.99 L357.63 272.59 L364.72 270.27 L371.8 268.03 L378.89 265.87 L385.98 263.79 L393.07 261.77 L400.16 259.82 L407.24 257.94 L414.33 256.11 L421.42 254.34 L428.51 252.63 L435.59 250.96 L442.68 249.35 L449.77 247.79 L456.86 246.27 L463.94 244.79 L471.03 243.36 L478.12 241.96 L485.21 240.61 L492.29 239.29 L499.38 238.01 L506.47 236.76 L513.56 235.54 L520.64 234.35 L527.73 233.2 L534.82 232.07 L541.91 230.97 L549 229.9 L556.08 228.86 L563.17 227.84 L570.26 226.84 L577.35 225.87 L584.43 224.91 L591.52 223.98 L598.61 223.08 L605.7 222.19 L612.78 221.32 L619.87 220.47 L626.96 219.64 L634.05 218.83 L641.13 218.03 L648.22 217.25 L655.31 216.49 L662.4 215.74 L669.49 215 L676.57 214.29 L683.66 213.58 L690.75 212.89 L697.84 212.22 L704.92 211.55 L712.01 210.9 L719.1 210.26 L726.19 209.64 L733.27 209.02 L740.36 208.42 L747.45 207.82 L754.54 207.24 L761.62 206.67 L768.71 206.11 L775.8 205.56" fill="none" stroke="#00f" stroke-width="2.1" stroke-linecap="butt" stroke-linejoin="round"/>
<line x1="191.2" x2="798" y1="224.4" y2="224.4" stroke="#ffa500" stroke-width="2.35"/>
<path d="M49 561 L55 555 L61 561 L55 567Z" fill="#f00" stroke="#303058" stroke-opacity="0.7" stroke-width="0.8"/>
<circle cx="258.8" cy="561" r="6.8" fill="#00f" stroke="#303058" stroke-opacity="0.7" stroke-width="0.8"/>
<rect x="555.5" y="555" width="13" height="13" fill="#ffa500" stroke="#111"/>
<text x="80" y="567.6" font-family="Liberation Sans" font-size="18.67" stroke="#000" stroke-width="0.35" letter-spacing="0.9">Rubisco-limited</text>
<text x="284" y="567.6" font-family="Liberation Sans" font-size="18.67" stroke="#000" stroke-width="0.35" letter-spacing="0.85">RuBP regeneration-limited</text>
<text x="586.5" y="567.6" font-family="Liberation Sans" font-size="18.67" stroke="#000" stroke-width="0.35" letter-spacing="0.9">TPU-limited</text>
</g>
<g transform="translate(825,1200)">
<rect x="0.5" y="0.5" width="824" height="599" fill="#fff" stroke="#5d7798"/>
<rect x="1.5" y="1.5" width="822" height="597" fill="none" stroke="#587193"/>
<text x="411.8" y="35.8" text-anchor="middle" font-family="Liberation Serif" font-weight="bold" font-size="18.67" letter-spacing="0.67">LeafWeb curveID = ganhan1.csv</text>
<text x="412.4" y="58.6" text-anchor="middle" font-family="Liberation Serif" font-weight="bold" font-size="18.67" letter-spacing="0.71">Internal conductance estimated, compensation point and M-M constants fixed</text>
<rect x="98" y="94" width="702" height="371" fill="url(#bg)"/>
<line x1="98" x2="800" y1="464.5" y2="464.5" stroke="#404040" stroke-opacity="0.25"/>
<line x1="98" x2="800" y1="402.5" y2="402.5" stroke="#404040" stroke-opacity="0.25"/>
<line x1="98" x2="800" y1="341.5" y2="341.5" stroke="#404040" stroke-opacity="0.25"/>
<line x1="98" x2="800" y1="279.5" y2="279.5" stroke="#404040" stroke-opacity="0.25"/>
<line x1="98" x2="800" y1="217.5" y2="217.5" stroke="#404040" stroke-opacity="0.25"/>
<line x1="98" x2="800" y1="156.5" y2="156.5" stroke="#404040" stroke-opacity="0.25"/>
<line x1="98" x2="800" y1="94.5" y2="94.5" stroke="#404040" stroke-opacity="0.25"/>
<line x1="98.5" x2="98.5" y1="94" y2="465" stroke="#404040" stroke-opacity="0.25"/>
<line x1="347.5" x2="347.5" y1="94" y2="465" stroke="#404040" stroke-opacity="0.25"/>
<line x1="596.5" x2="596.5" y1="94" y2="465" stroke="#404040" stroke-opacity="0.25"/>
<rect x="98.5" y="94.5" width="701" height="370" fill="none" stroke="#404040" stroke-opacity="0.25"/>
<line x1="98.5" x2="98.5" y1="94" y2="465" stroke="#404040" stroke-opacity="0.3"/>
<line x1="98" x2="800" y1="464.5" y2="464.5" stroke="#404040" stroke-opacity="0.3"/>
<line x1="90" x2="98" y1="464.5" y2="464.5" stroke="#000"/>
<text x="86.5" y="468.7" text-anchor="end" font-family="Liberation Sans" font-size="14" stroke="#000" stroke-width="0.3">-2</text>
<line x1="90" x2="98" y1="402.5" y2="402.5" stroke="#000"/>
<text x="86.5" y="406.7" text-anchor="end" font-family="Liberation Sans" font-size="14" stroke="#000" stroke-width="0.3">0</text>
<line x1="90" x2="98" y1="341.5" y2="341.5" stroke="#000"/>
<text x="86.5" y="345.7" text-anchor="end" font-family="Liberation Sans" font-size="14" stroke="#000" stroke-width="0.3">2</text>
<line x1="90" x2="98" y1="279.5" y2="279.5" stroke="#000"/>
<text x="86.5" y="283.7" text-anchor="end" font-family="Liberation Sans" font-size="14" stroke="#000" stroke-width="0.3">4</text>
<line x1="90" x2="98" y1="217.5" y2="217.5" stroke="#000"/>
<text x="86.5" y="221.7" text-anchor="end" font-family="Liberation Sans" font-size="14" stroke="#000" stroke-width="0.3">6</text>
<line x1="90" x2="98" y1="156.5" y2="156.5" stroke="#000"/>
<text x="86.5" y="160.7" text-anchor="end" font-family="Liberation Sans" font-size="14" stroke="#000" stroke-width="0.3">8</text>
<line x1="90" x2="98" y1="94.5" y2="94.5" stroke="#000"/>
<text x="86.5" y="98.7" text-anchor="end" font-family="Liberation Sans" font-size="14" stroke="#000" stroke-width="0.3">10</text>
<line x1="98.5" x2="98.5" y1="464" y2="471" stroke="#000"/>
<text x="98.0" y="485" text-anchor="middle" font-family="Liberation Sans" font-size="14" stroke="#000" stroke-width="0.3">0</text>
<line x1="347.5" x2="347.5" y1="464" y2="471" stroke="#000"/>
<text x="347.0" y="485" text-anchor="middle" font-family="Liberation Sans" font-size="14" stroke="#000" stroke-width="0.3">20</text>
<line x1="596.5" x2="596.5" y1="464" y2="471" stroke="#000"/>
<text x="596.0" y="485" text-anchor="middle" font-family="Liberation Sans" font-size="14" stroke="#000" stroke-width="0.3">40</text>
<text x="448.3" y="512.9" text-anchor="middle" font-family="Liberation Serif" font-weight="bold" font-size="18.67" letter-spacing="0.74">Intercellular CO2 partial pressure (Pa)</text>
<text transform="translate(49,274.4) rotate(-90)" text-anchor="middle" font-family="Liberation Serif" font-weight="bold" font-size="18.67" letter-spacing="0.32">Net assimilation rate (umol/m2/s)</text>
<path d="M160.53 414.97 L166.53 408.97 L172.53 414.97 L166.53 420.97Z" fill="#f00" stroke="#303058" stroke-opacity="0.7" stroke-width="0.8"/>
<path d="M165.14 410.66 L171.14 404.66 L177.14 410.66 L171.14 416.66Z" fill="#f00" stroke="#303058" stroke-opacity="0.7" stroke-width="0.8"/>
<path d="M180.22 395.24 L186.22 389.24 L192.22 395.24 L186.22 401.24Z" fill="#f00" stroke="#303058" stroke-opacity="0.7" stroke-width="0.8"/>
<path d="M221.83 357.62 L227.83 351.62 L233.83 357.62 L227.83 363.62Z" fill="#f00" stroke="#303058" stroke-opacity="0.7" stroke-width="0.8"/>
<path d="M277.16 314.77 L283.16 308.77 L289.16 314.77 L283.16 320.77Z" fill="#f00" stroke="#303058" stroke-opacity="0.7" stroke-width="0.8"/>
<path d="M284.51 310.14 L290.51 304.14 L296.51 310.14 L290.51 316.14Z" fill="#f00" stroke="#303058" stroke-opacity="0.7" stroke-width="0.8"/>
<path d="M332.48 279.92 L338.48 273.92 L344.48 279.92 L338.48 285.92Z" fill="#f00" stroke="#303058" stroke-opacity="0.7" stroke-width="0.8"/>
<path d="M361.63 263.89 L367.63 257.89 L373.63 263.89 L367.63 269.89Z" fill="#f00" stroke="#303058" stroke-opacity="0.7" stroke-width="0.8"/>
<circle cx="500.33" cy="204.38" r="6.9" fill="#00f" stroke="#303058" stroke-opacity="0.7" stroke-width="0.8"/>
<circle cx="572.35" cy="179.1" r="6.9" fill="#00f" stroke="#303058" stroke-opacity="0.7" stroke-width="0.8"/>
<rect x="637.5" y="150.5" width="13" height="13" fill="#ffa500" stroke="#1a1a1a" stroke-width="1"/>
<path d="M110.87 423.27 L123.33 416.62 L135.8 409.8 L148.26 402.82 L160.73 395.58 L173.19 388.29 L204.35 370.61 L235.52 353.66 L266.68 337.71 L297.84 322.59 L329 308.49 L360.16 294.7 L391.33 280.89 L422.49 265.96 L453.65 251.13 L484.82 237.37 L515.98 223.92 L547.14 210.33 L578.3 196.93 L609.47 184.12 L640.63 171.63 L671.79 159.36 L702.95 147.35 L734.12 135.65 L765.28 124.28 L796.44 113.29" fill="none" stroke="#f00" stroke-width="2.1" stroke-linecap="butt" stroke-linejoin="round"/>
<path d="M110.87 429.15 L123.33 420.22 L135.8 411.45 L148.26 402.83 L160.73 394.35 L173.19 386.08 L204.35 365.74 L235.52 347.52 L266.68 332.21 L297.84 317.09 L329 303.32 L360.16 291.22 L391.33 280.75 L422.49 270.68 L453.65 261.75 L484.82 254.01 L515.98 246.87 L547.14 240.28 L578.3 234.14 L609.47 228.42 L640.63 223.54 L671.79 219.23 L702.95 215.16 L734.12 211.43 L765.28 208.15 L796.44 205.42" fill="none" stroke="#00f" stroke-width="2.1" stroke-linecap="butt" stroke-linejoin="round"/>
<line x1="329" x2="796.6" y1="224.4" y2="224.4" stroke="#ffa500" stroke-width="2.35"/>
<path d="M49 561 L55 555 L61 561 L55 567Z" fill="#f00" stroke="#303058" stroke-opacity="0.7" stroke-width="0.8"/>
<circle cx="258.8" cy="561" r="6.8" fill="#00f" stroke="#303058" stroke-opacity="0.7" stroke-width="0.8"/>
<rect x="555.5" y="555" width="13" height="13" fill="#ffa500" stroke="#111"/>
<text x="80" y="567.6" font-family="Liberation Sans" font-size="18.67" stroke="#000" stroke-width="0.35" letter-spacing="0.9">Rubisco-limited</text>
<text x="284" y="567.6" font-family="Liberation Sans" font-size="18.67" stroke="#000" stroke-width="0.35" letter-spacing="0.85">RuBP regeneration-limited</text>
<text x="586.5" y="567.6" font-family="Liberation Sans" font-size="18.67" stroke="#000" stroke-width="0.35" letter-spacing="0.9">TPU-limited</text>
</g>
<g transform="translate(0,1800)">
<rect x="0.5" y="0.5" width="824" height="599" fill="#fff" stroke="#5d7798"/>
<rect x="1.5" y="1.5" width="822" height="597" fill="none" stroke="#587193"/>
<text x="411.8" y="35.8" text-anchor="middle" font-family="Liberation Serif" font-weight="bold" font-size="18.67" letter-spacing="0.67">LeafWeb curveID = ganhan1.csv</text>
<text x="412.7" y="58.6" text-anchor="middle" font-family="Liberation Serif" font-weight="bold" font-size="18.67" letter-spacing="0.73">Internal conductance estimated, compensation point and M-M constants estimated</text>
<rect x="98" y="94" width="702" height="371" fill="url(#bg)"/>
<line x1="98" x2="800" y1="464.5" y2="464.5" stroke="#404040" stroke-opacity="0.25"/>
<line x1="98" x2="800" y1="402.5" y2="402.5" stroke="#404040" stroke-opacity="0.25"/>
<line x1="98" x2="800" y1="341.5" y2="341.5" stroke="#404040" stroke-opacity="0.25"/>
<line x1="98" x2="800" y1="279.5" y2="279.5" stroke="#404040" stroke-opacity="0.25"/>
<line x1="98" x2="800" y1="217.5" y2="217.5" stroke="#404040" stroke-opacity="0.25"/>
<line x1="98" x2="800" y1="156.5" y2="156.5" stroke="#404040" stroke-opacity="0.25"/>
<line x1="98" x2="800" y1="94.5" y2="94.5" stroke="#404040" stroke-opacity="0.25"/>
<line x1="98.5" x2="98.5" y1="94" y2="465" stroke="#404040" stroke-opacity="0.25"/>
<line x1="280.5" x2="280.5" y1="94" y2="465" stroke="#404040" stroke-opacity="0.25"/>
<line x1="462.5" x2="462.5" y1="94" y2="465" stroke="#404040" stroke-opacity="0.25"/>
<line x1="644.5" x2="644.5" y1="94" y2="465" stroke="#404040" stroke-opacity="0.25"/>
<rect x="98.5" y="94.5" width="701" height="370" fill="none" stroke="#404040" stroke-opacity="0.25"/>
<line x1="98.5" x2="98.5" y1="94" y2="465" stroke="#404040" stroke-opacity="0.3"/>
<line x1="98" x2="800" y1="464.5" y2="464.5" stroke="#404040" stroke-opacity="0.3"/>
<line x1="90" x2="98" y1="464.5" y2="464.5" stroke="#000"/>
<text x="86.5" y="468.7" text-anchor="end" font-family="Liberation Sans" font-size="14" stroke="#000" stroke-width="0.3">-2</text>
<line x1="90" x2="98" y1="402.5" y2="402.5" stroke="#000"/>
<text x="86.5" y="406.7" text-anchor="end" font-family="Liberation Sans" font-size="14" stroke="#000" stroke-width="0.3">0</text>
<line x1="90" x2="98" y1="341.5" y2="341.5" stroke="#000"/>
<text x="86.5" y="345.7" text-anchor="end" font-family="Liberation Sans" font-size="14" stroke="#000" stroke-width="0.3">2</text>
<line x1="90" x2="98" y1="279.5" y2="279.5" stroke="#000"/>
<text x="86.5" y="283.7" text-anchor="end" font-family="Liberation Sans" font-size="14" stroke="#000" stroke-width="0.3">4</text>
<line x1="90" x2="98" y1="217.5" y2="217.5" stroke="#000"/>
<text x="86.5" y="221.7" text-anchor="end" font-family="Liberation Sans" font-size="14" stroke="#000" stroke-width="0.3">6</text>
<line x1="90" x2="98" y1="156.5" y2="156.5" stroke="#000"/>
<text x="86.5" y="160.7" text-anchor="end" font-family="Liberation Sans" font-size="14" stroke="#000" stroke-width="0.3">8</text>
<line x1="90" x2="98" y1="94.5" y2="94.5" stroke="#000"/>
<text x="86.5" y="98.7" text-anchor="end" font-family="Liberation Sans" font-size="14" stroke="#000" stroke-width="0.3">10</text>
<line x1="98.5" x2="98.5" y1="464" y2="471" stroke="#000"/>
<text x="98.0" y="485" text-anchor="middle" font-family="Liberation Sans" font-size="14" stroke="#000" stroke-width="0.3">0</text>
<line x1="280.5" x2="280.5" y1="464" y2="471" stroke="#000"/>
<text x="280.0" y="485" text-anchor="middle" font-family="Liberation Sans" font-size="14" stroke="#000" stroke-width="0.3">10</text>
<line x1="462.5" x2="462.5" y1="464" y2="471" stroke="#000"/>
<text x="462.0" y="485" text-anchor="middle" font-family="Liberation Sans" font-size="14" stroke="#000" stroke-width="0.3">20</text>
<line x1="644.5" x2="644.5" y1="464" y2="471" stroke="#000"/>
<text x="644.0" y="485" text-anchor="middle" font-family="Liberation Sans" font-size="14" stroke="#000" stroke-width="0.3">30</text>
<text x="448.3" y="512.9" text-anchor="middle" font-family="Liberation Serif" font-weight="bold" font-size="18.67" letter-spacing="0.74">Chloroplastic CO2 partial pressure (Pa)</text>
<text transform="translate(49,274.4) rotate(-90)" text-anchor="middle" font-family="Liberation Serif" font-weight="bold" font-size="18.67" letter-spacing="0.32">Net assimilation rate (umol/m2/s)</text>
<path d="M147.1 414.97 L153.1 408.97 L159.1 414.97 L153.1 420.97Z" fill="#f00" stroke="#303058" stroke-opacity="0.7" stroke-width="0.8"/>
<path d="M149.8 410.66 L155.8 404.66 L161.8 410.66 L155.8 416.66Z" fill="#f00" stroke="#303058" stroke-opacity="0.7" stroke-width="0.8"/>
<path d="M157.1 395.24 L163.1 389.24 L169.1 395.24 L163.1 401.24Z" fill="#f00" stroke="#303058" stroke-opacity="0.7" stroke-width="0.8"/>
<path d="M180.7 357.62 L186.7 351.62 L192.7 357.62 L186.7 363.62Z" fill="#f00" stroke="#303058" stroke-opacity="0.7" stroke-width="0.8"/>
<path d="M215.1 314.77 L221.1 308.77 L227.1 314.77 L221.1 320.77Z" fill="#f00" stroke="#303058" stroke-opacity="0.7" stroke-width="0.8"/>
<path d="M219.9 310.14 L225.9 304.14 L231.9 310.14 L225.9 316.14Z" fill="#f00" stroke="#303058" stroke-opacity="0.7" stroke-width="0.8"/>
<path d="M253.4 279.92 L259.4 273.92 L265.4 279.92 L259.4 285.92Z" fill="#f00" stroke="#303058" stroke-opacity="0.7" stroke-width="0.8"/>
<path d="M275.5 263.89 L281.5 257.89 L287.5 263.89 L281.5 269.89Z" fill="#f00" stroke="#303058" stroke-opacity="0.7" stroke-width="0.8"/>
<circle cx="412.3" cy="204.38" r="6.9" fill="#00f" stroke="#303058" stroke-opacity="0.7" stroke-width="0.8"/>
<circle cx="500.5" cy="179.1" r="6.9" fill="#00f" stroke="#303058" stroke-opacity="0.7" stroke-width="0.8"/>
<circle cx="593.1" cy="157.52" r="6.9" fill="#00f" stroke="#303058" stroke-opacity="0.7" stroke-width="0.8"/>
<path d="M126.5 407.01 L136.43 394.4 L146.37 382.64 L156.3 371.64 L166.24 361.32 L176.17 351.63 L186.1 342.51 L196.04 333.91 L205.97 325.79 L215.91 318.1 L225.84 310.82 L235.77 303.92 L245.71 297.36 L255.64 291.12 L265.57 285.17 L275.51 279.51 L285.44 274.1 L295.38 268.93 L305.31 263.98 L315.24 259.25 L325.18 254.71 L335.11 250.36 L345.05 246.18 L354.98 242.17 L364.91 238.31 L374.85 234.59 L384.78 231.02 L394.72 227.57 L404.65 224.25 L414.58 221.04 L424.52 217.94 L434.45 214.95 L444.38 212.06 L454.32 209.26 L464.25 206.55 L474.19 203.93 L484.12 201.4 L494.05 198.93 L503.99 196.55 L513.92 194.23 L523.86 191.99 L533.79 189.8 L543.72 187.68 L553.66 185.62 L563.59 183.62 L573.53 181.67 L583.46 179.78 L593.39 177.93 L603.33 176.14 L613.26 174.39 L623.19 172.68 L633.13 171.02 L643.06 169.4 L653 167.82 L662.93 166.28 L672.86 164.78 L682.8 163.31 L692.73 161.88 L702.67 160.47 L712.6 159.11" fill="none" stroke="#f00" stroke-width="2.1" stroke-linecap="butt" stroke-linejoin="round"/>
<path d="M128 408.6 L135.53 391.45 L143.06 376.74 L150.59 363.99 L158.12 352.82 L165.65 342.96 L173.18 334.2 L180.71 326.35 L188.24 319.28 L195.77 312.89 L203.3 307.08 L210.83 301.77 L218.36 296.9 L225.89 292.42 L233.42 288.28 L240.96 284.45 L248.49 280.89 L256.02 277.58 L263.55 274.49 L271.08 271.59 L278.61 268.88 L286.14 266.33 L293.67 263.93 L301.2 261.67 L308.73 259.53 L316.26 257.51 L323.79 255.6 L331.32 253.78 L338.85 252.05 L346.38 250.41 L353.91 248.85 L361.44 247.36 L368.97 245.93 L376.5 244.57 L384.03 243.27 L391.56 242.02 L399.09 240.83 L406.62 239.68 L414.15 238.58 L421.68 237.53 L429.21 236.51 L436.74 235.53 L444.27 234.59 L451.8 233.68 L459.33 232.81 L466.87 231.96 L474.4 231.15 L481.93 230.36 L489.46 229.6 L496.99 228.86 L504.52 228.15 L512.05 227.46 L519.58 226.79 L527.11 226.14 L534.64 225.51 L542.17 224.9 L549.7 224.31 L557.23 223.74 L564.76 223.18 L572.29 222.64 L579.82 222.11 L587.35 221.59 L594.88 221.1 L602.41 220.61 L609.94 220.14 L617.47 219.68 L625 219.23 L632.53 218.79 L640.06 218.36 L647.59 217.95 L655.12 217.54 L662.65 217.14 L670.18 216.76 L677.71 216.38 L685.24 216.01 L692.78 215.65 L700.31 215.3 L707.84 214.95 L715.37 214.62 L722.9 214.29 L730.43 213.96 L737.96 213.65 L745.49 213.34 L753.02 213.04 L760.55 212.74 L768.08 212.45 L775.61 212.17 L783.14 211.89 L790.67 211.62 L798.2 211.35" fill="none" stroke="#00f" stroke-width="2.1" stroke-linecap="butt" stroke-linejoin="round"/>
<line x1="161.4" x2="617.2" y1="102.45" y2="102.45" stroke="#ffa500" stroke-width="2.35"/>
<path d="M49 561 L55 555 L61 561 L55 567Z" fill="#f00" stroke="#303058" stroke-opacity="0.7" stroke-width="0.8"/>
<circle cx="258.8" cy="561" r="6.8" fill="#00f" stroke="#303058" stroke-opacity="0.7" stroke-width="0.8"/>
<rect x="555.5" y="555" width="13" height="13" fill="#ffa500" stroke="#111"/>
<text x="80" y="567.6" font-family="Liberation Sans" font-size="18.67" stroke="#000" stroke-width="0.35" letter-spacing="0.9">Rubisco-limited</text>
<text x="284" y="567.6" font-family="Liberation Sans" font-size="18.67" stroke="#000" stroke-width="0.35" letter-spacing="0.85">RuBP regeneration-limited</text>
<text x="586.5" y="567.6" font-family="Liberation Sans" font-size="18.67" stroke="#000" stroke-width="0.35" letter-spacing="0.9">Curve Asymptote</text>
</g>
<g transform="translate(825,1800)">
<rect x="0.5" y="0.5" width="824" height="599" fill="#fff" stroke="#5d7798"/>
<rect x="1.5" y="1.5" width="822" height="597" fill="none" stroke="#587193"/>
<text x="411.8" y="35.8" text-anchor="middle" font-family="Liberation Serif" font-weight="bold" font-size="18.67" letter-spacing="0.67">LeafWeb curveID = ganhan1.csv</text>
<text x="412.7" y="58.6" text-anchor="middle" font-family="Liberation Serif" font-weight="bold" font-size="18.67" letter-spacing="0.73">Internal conductance estimated, compensation point and M-M constants estimated</text>
<rect x="98" y="94" width="702" height="371" fill="url(#bg)"/>
<line x1="98" x2="800" y1="464.5" y2="464.5" stroke="#404040" stroke-opacity="0.25"/>
<line x1="98" x2="800" y1="402.5" y2="402.5" stroke="#404040" stroke-opacity="0.25"/>
<line x1="98" x2="800" y1="341.5" y2="341.5" stroke="#404040" stroke-opacity="0.25"/>
<line x1="98" x2="800" y1="279.5" y2="279.5" stroke="#404040" stroke-opacity="0.25"/>
<line x1="98" x2="800" y1="217.5" y2="217.5" stroke="#404040" stroke-opacity="0.25"/>
<line x1="98" x2="800" y1="156.5" y2="156.5" stroke="#404040" stroke-opacity="0.25"/>
<line x1="98" x2="800" y1="94.5" y2="94.5" stroke="#404040" stroke-opacity="0.25"/>
<line x1="98.5" x2="98.5" y1="94" y2="465" stroke="#404040" stroke-opacity="0.25"/>
<line x1="347.5" x2="347.5" y1="94" y2="465" stroke="#404040" stroke-opacity="0.25"/>
<line x1="596.5" x2="596.5" y1="94" y2="465" stroke="#404040" stroke-opacity="0.25"/>
<rect x="98.5" y="94.5" width="701" height="370" fill="none" stroke="#404040" stroke-opacity="0.25"/>
<line x1="98.5" x2="98.5" y1="94" y2="465" stroke="#404040" stroke-opacity="0.3"/>
<line x1="98" x2="800" y1="464.5" y2="464.5" stroke="#404040" stroke-opacity="0.3"/>
<line x1="90" x2="98" y1="464.5" y2="464.5" stroke="#000"/>
<text x="86.5" y="468.7" text-anchor="end" font-family="Liberation Sans" font-size="14" stroke="#000" stroke-width="0.3">-2</text>
<line x1="90" x2="98" y1="402.5" y2="402.5" stroke="#000"/>
<text x="86.5" y="406.7" text-anchor="end" font-family="Liberation Sans" font-size="14" stroke="#000" stroke-width="0.3">0</text>
<line x1="90" x2="98" y1="341.5" y2="341.5" stroke="#000"/>
<text x="86.5" y="345.7" text-anchor="end" font-family="Liberation Sans" font-size="14" stroke="#000" stroke-width="0.3">2</text>
<line x1="90" x2="98" y1="279.5" y2="279.5" stroke="#000"/>
<text x="86.5" y="283.7" text-anchor="end" font-family="Liberation Sans" font-size="14" stroke="#000" stroke-width="0.3">4</text>
<line x1="90" x2="98" y1="217.5" y2="217.5" stroke="#000"/>
<text x="86.5" y="221.7" text-anchor="end" font-family="Liberation Sans" font-size="14" stroke="#000" stroke-width="0.3">6</text>
<line x1="90" x2="98" y1="156.5" y2="156.5" stroke="#000"/>
<text x="86.5" y="160.7" text-anchor="end" font-family="Liberation Sans" font-size="14" stroke="#000" stroke-width="0.3">8</text>
<line x1="90" x2="98" y1="94.5" y2="94.5" stroke="#000"/>
<text x="86.5" y="98.7" text-anchor="end" font-family="Liberation Sans" font-size="14" stroke="#000" stroke-width="0.3">10</text>
<line x1="98.5" x2="98.5" y1="464" y2="471" stroke="#000"/>
<text x="98.0" y="485" text-anchor="middle" font-family="Liberation Sans" font-size="14" stroke="#000" stroke-width="0.3">0</text>
<line x1="347.5" x2="347.5" y1="464" y2="471" stroke="#000"/>
<text x="347.0" y="485" text-anchor="middle" font-family="Liberation Sans" font-size="14" stroke="#000" stroke-width="0.3">20</text>
<line x1="596.5" x2="596.5" y1="464" y2="471" stroke="#000"/>
<text x="596.0" y="485" text-anchor="middle" font-family="Liberation Sans" font-size="14" stroke="#000" stroke-width="0.3">40</text>
<text x="448.3" y="512.9" text-anchor="middle" font-family="Liberation Serif" font-weight="bold" font-size="18.67" letter-spacing="0.74">Intercellular CO2 partial pressure (Pa)</text>
<text transform="translate(49,274.4) rotate(-90)" text-anchor="middle" font-family="Liberation Serif" font-weight="bold" font-size="18.67" letter-spacing="0.32">Net assimilation rate (umol/m2/s)</text>
<path d="M160.53 414.97 L166.53 408.97 L172.53 414.97 L166.53 420.97Z" fill="#f00" stroke="#303058" stroke-opacity="0.7" stroke-width="0.8"/>
<path d="M165.14 410.66 L171.14 404.66 L177.14 410.66 L171.14 416.66Z" fill="#f00" stroke="#303058" stroke-opacity="0.7" stroke-width="0.8"/>
<path d="M180.22 395.24 L186.22 389.24 L192.22 395.24 L186.22 401.24Z" fill="#f00" stroke="#303058" stroke-opacity="0.7" stroke-width="0.8"/>
<path d="M221.83 357.62 L227.83 351.62 L233.83 357.62 L227.83 363.62Z" fill="#f00" stroke="#303058" stroke-opacity="0.7" stroke-width="0.8"/>
<path d="M277.16 314.77 L283.16 308.77 L289.16 314.77 L283.16 320.77Z" fill="#f00" stroke="#303058" stroke-opacity="0.7" stroke-width="0.8"/>
<path d="M284.51 310.14 L290.51 304.14 L296.51 310.14 L290.51 316.14Z" fill="#f00" stroke="#303058" stroke-opacity="0.7" stroke-width="0.8"/>
<path d="M332.48 279.92 L338.48 273.92 L344.48 279.92 L338.48 285.92Z" fill="#f00" stroke="#303058" stroke-opacity="0.7" stroke-width="0.8"/>
<path d="M361.63 263.89 L367.63 257.89 L373.63 263.89 L367.63 269.89Z" fill="#f00" stroke="#303058" stroke-opacity="0.7" stroke-width="0.8"/>
<circle cx="500.33" cy="204.38" r="6.9" fill="#00f" stroke="#303058" stroke-opacity="0.7" stroke-width="0.8"/>
<circle cx="572.35" cy="179.1" r="6.9" fill="#00f" stroke="#303058" stroke-opacity="0.7" stroke-width="0.8"/>
<circle cx="644.5" cy="157.52" r="6.9" fill="#00f" stroke="#303058" stroke-opacity="0.7" stroke-width="0.8"/>
<path d="M110.87 408.26 L123.33 400.41 L135.8 392.72 L148.26 385.2 L160.73 377.86 L173.19 370.69 L204.35 353.48 L235.52 337.29 L266.68 322.07 L297.84 307.79 L329 294.71 L360.16 281.71 L391.33 268.31 L422.49 255.59 L453.65 243.99 L484.82 233.11 L515.98 223.07 L547.14 214.03 L578.3 205.68 L609.47 197.83 L640.63 190.34 L671.79 183.3 L702.95 176.79 L734.12 170.69 L765.28 164.99 L796.44 159.74" fill="none" stroke="#f00" stroke-width="2.1" stroke-linecap="butt" stroke-linejoin="round"/>
<path d="M110.87 409.35 L123.33 400.53 L135.8 391.92 L148.26 383.52 L160.73 375.33 L173.19 367.38 L204.35 348.37 L235.52 330.65 L266.68 313.95 L297.84 299 L329 286.59 L360.16 275.6 L391.33 265.45 L422.49 256.41 L453.65 248.8 L484.82 242.42 L515.98 236.94 L547.14 232.18 L578.3 228.02 L609.47 224.57 L640.63 221.63 L671.79 219.06 L702.95 216.76 L734.12 214.65 L765.28 212.75 L796.44 211.11" fill="none" stroke="#00f" stroke-width="2.1" stroke-linecap="butt" stroke-linejoin="round"/>
<line x1="484.2" x2="796.6" y1="102.45" y2="102.45" stroke="#ffa500" stroke-width="2.35"/>
<path d="M49 561 L55 555 L61 561 L55 567Z" fill="#f00" stroke="#303058" stroke-opacity="0.7" stroke-width="0.8"/>
<circle cx="258.8" cy="561" r="6.8" fill="#00f" stroke="#303058" stroke-opacity="0.7" stroke-width="0.8"/>
<rect x="555.5" y="555" width="13" height="13" fill="#ffa500" stroke="#111"/>
<text x="80" y="567.6" font-family="Liberation Sans" font-size="18.67" stroke="#000" stroke-width="0.35" letter-spacing="0.9">Rubisco-limited</text>
<text x="284" y="567.6" font-family="Liberation Sans" font-size="18.67" stroke="#000" stroke-width="0.35" letter-spacing="0.85">RuBP regeneration-limited</text>
<text x="586.5" y="567.6" font-family="Liberation Sans" font-size="18.67" stroke="#000" stroke-width="0.35" letter-spacing="0.9">Curve Asymptote</text>
</g>
</svg>
</body></html>
